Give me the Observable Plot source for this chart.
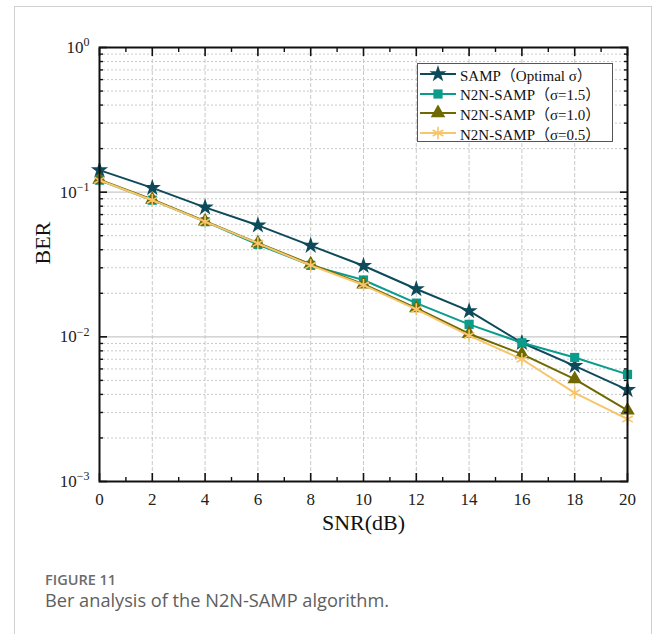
<!DOCTYPE html>
<html><head><meta charset="utf-8">
<script src="https://cdn.jsdelivr.net/npm/d3@7"></script>
<script src="https://cdn.jsdelivr.net/npm/@observablehq/plot@0.6"></script>
<style>
body{margin:0;background:#fff;width:656px;height:634px;position:relative;overflow:hidden;}
#card{position:absolute;left:14px;top:6px;width:638px;height:660px;border:1px solid #d0d0d0;border-bottom:none;box-sizing:border-box}
#chart{position:absolute;left:0;top:0}
#legend{position:absolute;left:417px;top:63px;width:196px;height:79px;border:1px solid #555;background:#fff;box-sizing:border-box;font-family:"Liberation Serif","Noto Sans CJK SC",serif;font-size:15px;color:#111}
#legend .row{position:absolute;left:0;height:20px;display:flex;align-items:center}
#legend svg{display:block}
#cap1{position:absolute;left:45px;top:572px;line-height:15px;font-family:"Open Sans",sans-serif;font-weight:600;font-size:14.5px;color:#6b6b6b}
#cap2{position:absolute;left:45px;top:591px;line-height:19px;font-family:"Open Sans",sans-serif;font-size:18.2px;color:#5e5e5e}
</style></head>
<body>
<div id="card"></div>
<div id="chart"></div>
<div id="legend"></div>
<div id="cap1">FIGURE 11</div>
<div id="cap2">Ber analysis of the N2N-SAMP algorithm.</div>
<script>
const snr = [0, 2, 4, 6, 8, 10, 12, 14, 16, 18, 20];
const sampOptimal = [0.142, 0.107, 0.0785, 0.059, 0.0427, 0.031, 0.0214, 0.0151, 0.0091, 0.0063, 0.0043];
const n2nSigma15 = [0.121, 0.088, 0.0625, 0.0435, 0.0312, 0.0247, 0.0171, 0.0122, 0.0091, 0.0072, 0.0055];
const n2nSigma10 = [0.122, 0.089, 0.063, 0.0445, 0.0318, 0.0231, 0.0158, 0.0105, 0.0076, 0.0051, 0.0031];
const n2nSigma05 = [0.121, 0.088, 0.0625, 0.0443, 0.0312, 0.0228, 0.0155, 0.0102, 0.0070, 0.0041, 0.0027];
const seriesNames = ["SAMP（Optimal σ）", "N2N-SAMP（σ=1.5）", "N2N-SAMP（σ=1.0）", "N2N-SAMP（σ=0.5）"];
const seriesColors = ["#0e4b5a", "#0b9b8b", "#6e6900", "#f7c56c"];
const seriesSymbols = ["star", "square", "triangle", "asterisk"];
const xMajorTicks = [0, 2, 4, 6, 8, 10, 12, 14, 16, 18, 20];
const xMinorTicks = [1, 3, 5, 7, 9, 11, 13, 15, 17, 19];
const yMajorTicks = [1e-3, 1e-2, 1e-1, 1];
const yMinorMultipliers = [2, 3, 4, 5, 6, 7, 8, 9];

const yMinorTicks = [];
for (const d of [1e-3, 1e-2, 1e-1]) for (const m of yMinorMultipliers) yMinorTicks.push(+(d * m).toPrecision(3));

const allSeries = [sampOptimal, n2nSigma15, n2nSigma10, n2nSigma05];
const rows = [];
allSeries.forEach((vals, i) => vals.forEach((v, j) => rows.push({series: seriesNames[i], snr: snr[j], ber: v})));

const symbolRadius = {star: 5.4, square: 5.2, triangle: 5.4, asterisk: 5.8};
const gridColor = "#c9c9c9";
const marks = [
  Plot.ruleX(xMajorTicks.slice(1, -1), {stroke: gridColor, strokeDasharray: "4,2", strokeWidth: 1}),
  Plot.ruleY(yMinorTicks, {stroke: gridColor, strokeDasharray: "2,2", strokeWidth: 1}),
  Plot.ruleY(yMajorTicks.slice(1, -1), {stroke: gridColor, strokeWidth: 1.2}),
];
seriesNames.forEach((name, i) => {
  const data = rows.filter(r => r.series === name);
  const s = seriesSymbols[i];
  marks.push(Plot.line(data, {x: "snr", y: "ber", stroke: seriesColors[i], strokeWidth: 2}));
  if (s === "asterisk") {
    marks.push(Plot.dot(data, {x: "snr", y: "ber", symbol: s, r: symbolRadius[s], stroke: seriesColors[i], strokeWidth: 1.6, fill: "none"}));
  } else {
    marks.push(Plot.dot(data, {x: "snr", y: "ber", symbol: s, r: symbolRadius[s], fill: seriesColors[i], stroke: "none"}));
  }
});
// tick marks (inward), mirrored on all four sides, without labels
for (const anchor of ["left", "right"]) {
  marks.push(Plot.axisY({anchor, ticks: yMajorTicks, tickSize: -8, text: null, strokeWidth: 1.6, stroke: "#111", label: null}));
  marks.push(Plot.axisY({anchor, ticks: yMinorTicks, tickSize: -4, text: null, strokeWidth: 1.4, stroke: "#111", label: null}));
}
for (const anchor of ["bottom", "top"]) {
  marks.push(Plot.axisX({anchor, ticks: xMajorTicks, tickSize: -8, text: null, strokeWidth: 1.6, stroke: "#111", label: null}));
  marks.push(Plot.axisX({anchor, ticks: xMinorTicks, tickSize: -4, text: null, strokeWidth: 1.4, stroke: "#111", label: null}));
}
marks.push(Plot.axisY({anchor: "left", ticks: yMajorTicks, tickSize: 0, tickPadding: 10, tickFormat: d => String(Math.round(Math.log10(d))), label: null, fill: "#222", fontSize: 17}));
marks.push(Plot.axisX({anchor: "bottom", ticks: xMajorTicks, tickSize: 0, tickPadding: 11, tickFormat: d => String(d), label: null, fill: "#222", fontSize: 17}));
marks.push(Plot.frame({stroke: "#111", strokeWidth: 2}));
marks.push(Plot.text(["BER"], {frameAnchor: "left", dx: -57, rotate: -90, fontSize: 22, fill: "#111"}));
marks.push(Plot.text(["SNR(dB)"], {frameAnchor: "bottom", dy: 48, fontSize: 22, fill: "#111"}));

const chart = Plot.plot({
  width: 656, height: 540,
  marginLeft: 99, marginRight: 29, marginTop: 47, marginBottom: 59,
  x: {domain: [0, 20]},
  y: {type: "log", domain: [1e-3, 1]},
  style: {fontFamily: "'Liberation Serif', 'Times New Roman', serif", fontSize: "17px", background: "transparent", overflow: "visible"},
  marks
});
document.getElementById("chart").appendChild(chart);

// superscript exponents on the y tick labels (only non-empty labels)
d3.select(chart).selectAll('g[aria-label="y-axis tick label"] text').each(function() {
  const t = d3.select(this);
  const raw = t.text();
  if (!raw || !/^-?\d+$/.test(raw)) return;
  t.text("10");
  t.append("tspan").attr("dy", "-0.55em").attr("font-size", "12px").text(raw.replace("-", "−"));
});

// legend
const legend = d3.select("#legend");
seriesNames.forEach((name, i) => {
  const s = seriesSymbols[i];
  const row = legend.append("div").attr("class", "row").style("top", (i * 19.7) + "px");
  const svg = row.append("svg").attr("width", 42).attr("height", 20);
  svg.append("line").attr("x1", 2).attr("x2", 38).attr("y1", 10).attr("y2", 10).attr("stroke", seriesColors[i]).attr("stroke-width", 2);
  const sym = {star: d3.symbolStar, square: d3.symbolSquare, triangle: d3.symbolTriangle, asterisk: d3.symbolAsterisk}[s];
  const r = symbolRadius[s];
  const p = svg.append("path").attr("transform", "translate(20,10)").attr("d", d3.symbol(sym, Math.PI * r * r)());
  if (s === "asterisk") p.attr("fill", "none").attr("stroke", seriesColors[i]).attr("stroke-width", 1.6);
  else p.attr("fill", seriesColors[i]);
  row.append("span").text(name).style("white-space", "nowrap");
});
</script>
</body></html>
